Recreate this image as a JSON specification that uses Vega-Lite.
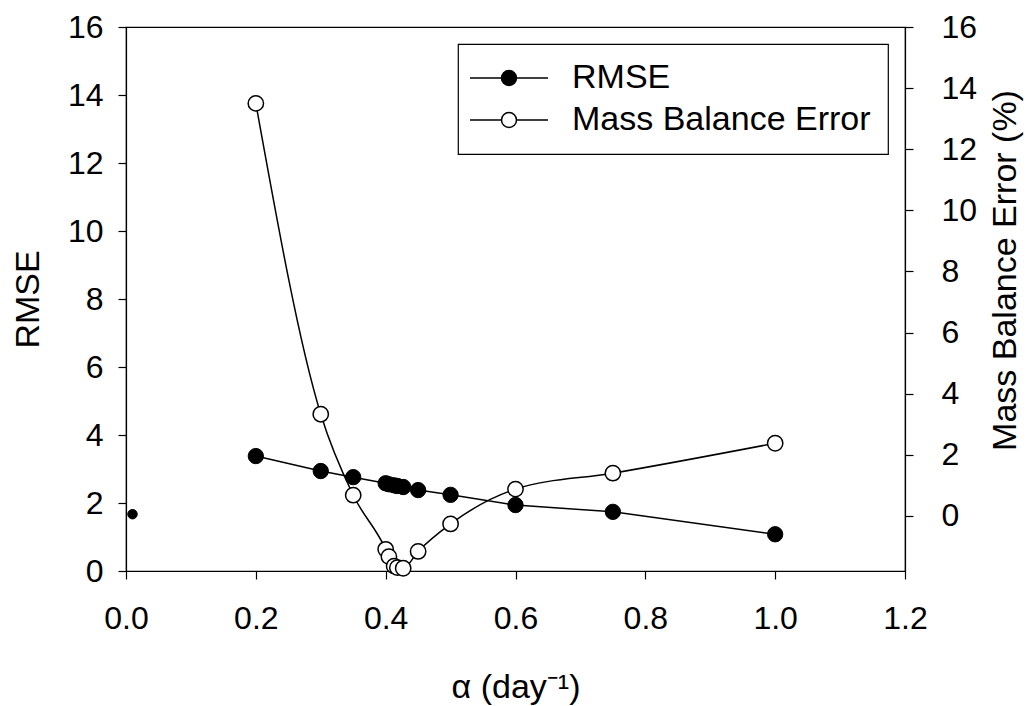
{
  "$schema": "https://vega.github.io/schema/vega-lite/v6.json",
  "width": 779,
  "height": 544,
  "autosize": {"type": "none"},
  "padding": {"left": 126, "top": 27, "right": 126, "bottom": 135},
  "background": "white",
  "datasets": {
    "rmse": [
      {"alpha": 0.01, "rmse": 1.67},
      {"alpha": 0.2, "rmse": 3.38},
      {"alpha": 0.3, "rmse": 2.94},
      {"alpha": 0.35, "rmse": 2.76},
      {"alpha": 0.4, "rmse": 2.58},
      {"alpha": 0.405, "rmse": 2.55},
      {"alpha": 0.413, "rmse": 2.52},
      {"alpha": 0.418, "rmse": 2.5},
      {"alpha": 0.427, "rmse": 2.47},
      {"alpha": 0.45, "rmse": 2.38},
      {"alpha": 0.5, "rmse": 2.24},
      {"alpha": 0.6, "rmse": 1.94},
      {"alpha": 0.75, "rmse": 1.74},
      {"alpha": 1.0, "rmse": 1.08}
    ],
    "mbe": [
      {"alpha": 0.2, "mbe": 13.5},
      {"alpha": 0.3, "mbe": 3.33},
      {"alpha": 0.35, "mbe": 0.68},
      {"alpha": 0.4, "mbe": -1.09},
      {"alpha": 0.405, "mbe": -1.33},
      {"alpha": 0.413, "mbe": -1.64},
      {"alpha": 0.418, "mbe": -1.69},
      {"alpha": 0.427, "mbe": -1.71},
      {"alpha": 0.45, "mbe": -1.16},
      {"alpha": 0.5, "mbe": -0.26},
      {"alpha": 0.6, "mbe": 0.88},
      {"alpha": 0.75, "mbe": 1.4},
      {"alpha": 1.0, "mbe": 2.38}
    ]
  },
  "config": {
    "font": "Liberation Sans",
    "view": {"stroke": "black", "strokeWidth": 1.2},
    "axis": {
      "grid": false,
      "domainColor": "black",
      "domainWidth": 1.2,
      "tickColor": "black",
      "tickWidth": 1.2,
      "tickSize": 8,
      "labelColor": "black",
      "titleColor": "black",
      "labelFont": "Liberation Sans",
      "titleFont": "Liberation Sans",
      "labelFontSize": 32,
      "titleFontSize": 34,
      "titleFontWeight": "normal",
      "labelFlush": false,
      "labelOverlap": false
    },
    "legend": {
      "orient": "top-right",
      "offset": 17,
      "strokeColor": "black",
      "strokeWidth": 1.2,
      "fillColor": "white",
      "padding": 17,
      "labelFont": "Liberation Sans",
      "labelFontSize": 34,
      "labelColor": "black",
      "labelLimit": 0,
      "symbolType": "M -5.2 0 L -1 0 M 1 0 L 5.2 0 M 1 0 A 1 1 0 1 1 -1 0 A 1 1 0 1 1 1 0 Z",
      "symbolSize": 225,
      "symbolOffset": 17,
      "labelOffset": 46,
      "rowPadding": 8,
      "symbolStrokeColor": "black",
      "symbolStrokeWidth": 1.5
    }
  },
  "encoding": {
    "x": {
      "field": "alpha",
      "type": "quantitative",
      "title": "α (day⁻¹)",
      "scale": {"domain": [0, 1.2], "nice": false, "zero": false},
      "axis": {
        "values": [0, 0.2, 0.4, 0.6, 0.8, 1.0, 1.2],
        "format": ".1f",
        "labelPadding": 24,
        "titlePadding": 36
      }
    }
  },
  "layer": [
    {
      "data": {"name": "mbe"},
      "encoding": {
        "y": {
          "field": "mbe",
          "type": "quantitative",
          "title": "Mass Balance Error (%)",
          "scale": {"domain": [-1.8, 16], "nice": false, "zero": false},
          "axis": {
            "orient": "right",
            "values": [0, 2, 4, 6, 8, 10, 12, 14, 16],
            "labelPadding": 28,
            "titlePadding": 12,
            "titleAngle": 270,
            "titleBaseline": "top",
            "titleY": 243
          }
        }
      },
      "layer": [
        {
          "mark": {"type": "line", "interpolate": "monotone", "color": "black", "strokeWidth": 1.5}
        },
        {
          "mark": {"type": "point", "shape": "circle", "filled": true, "size": 235, "stroke": "black", "strokeWidth": 1.5, "opacity": 1},
          "encoding": {
            "fill": {
              "datum": "Mass Balance Error",
              "type": "nominal",
              "title": null,
              "scale": {"domain": ["RMSE", "Mass Balance Error"], "range": ["black", "white"]},
              "legend": {
                "title": null,
                "encode": {"symbols": {"update": {"stroke": {"value": "black"}, "strokeWidth": {"value": 1.5}, "opacity": {"value": 1}}}}
              }
            }
          }
        }
      ]
    },
    {
      "data": {"name": "rmse"},
      "encoding": {
        "y": {
          "field": "rmse",
          "type": "quantitative",
          "title": "RMSE",
          "scale": {"domain": [0, 16], "nice": false, "zero": false},
          "axis": {
            "orient": "left",
            "values": [0, 2, 4, 6, 8, 10, 12, 14, 16],
            "labelPadding": 15,
            "titlePadding": 22
          }
        }
      },
      "layer": [
        {
          "transform": [{"filter": "datum.alpha >= 0.1"}],
          "mark": {"type": "line", "color": "black", "strokeWidth": 1.5}
        },
        {
          "transform": [{"filter": "datum.alpha >= 0.1"}],
          "mark": {"type": "point", "shape": "circle", "filled": true, "size": 235, "stroke": "black", "strokeWidth": 1, "opacity": 1},
          "encoding": {
            "fill": {
              "datum": "RMSE",
              "type": "nominal",
              "title": null,
              "scale": {"domain": ["RMSE", "Mass Balance Error"], "range": ["black", "white"]},
              "legend": {
                "title": null,
                "encode": {"symbols": {"update": {"stroke": {"value": "black"}, "strokeWidth": {"value": 1.5}, "opacity": {"value": 1}}}}
              }
            }
          }
        },
        {
          "transform": [{"filter": "datum.alpha < 0.1"}],
          "mark": {"type": "point", "shape": "circle", "filled": true, "size": 90, "fill": "black", "stroke": "black", "strokeWidth": 1, "opacity": 1}
        }
      ]
    }
  ],
  "resolve": {"scale": {"y": "independent"}, "axis": {"y": "independent"}}
}
